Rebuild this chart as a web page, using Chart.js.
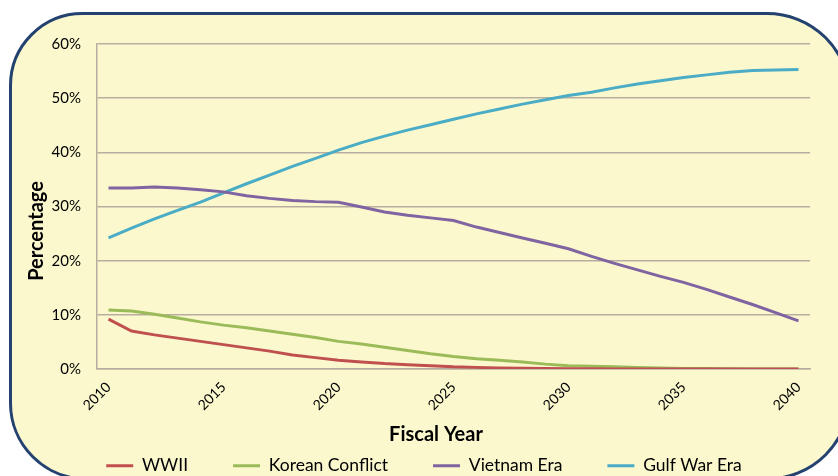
<!DOCTYPE html>
<html>
<head>
    <title>veteran-periods</title>
    <meta charset="utf-8">
    <script src="https://cdn.jsdelivr.net/npm/chart.js"></script>
    <style>
        body { margin: 0; background: #fff; overflow: hidden; }
    </style>
</head>
<body>
    <canvas id="chart" width="838" height="476"></canvas>

    <script>
        const years = [];
        for (let y = 2010; y <= 2040; y++) years.push(String(y));

        const wwii = [9.2, 7.0, 6.3, 5.7, 5.1, 4.5, 3.9, 3.3, 2.6, 2.1, 1.6, 1.3, 1.0, 0.8, 0.6, 0.4,
            0.3, 0.2, 0.15, 0.1, 0.05, 0.03, 0.02, 0.01, 0, 0, 0, 0, 0, 0, 0];
        const korean = [10.9, 10.7, 10.1, 9.4, 8.7, 8.1, 7.6, 7.0, 6.4, 5.8, 5.1, 4.6, 4.0, 3.4, 2.8, 2.3,
            1.9, 1.6, 1.3, 0.9, 0.6, 0.5, 0.4, 0.3, 0.2, 0.1, 0.1, 0.05, 0, 0, 0];
        const vietnam = [33.4, 33.4, 33.6, 33.4, 33.1, 32.7, 32.0, 31.5, 31.1, 30.9, 30.8, 29.9, 29.0, 28.4, 27.9, 27.4,
            26.2, 25.2, 24.2, 23.2, 22.2, 20.8, 19.5, 18.3, 17.1, 16.0, 14.7, 13.3, 11.9, 10.4, 8.9];
        const gulfWar = [24.2, 26.0, 27.7, 29.3, 30.8, 32.5, 34.2, 35.8, 37.4, 38.9, 40.4, 41.8, 43.0, 44.1, 45.1, 46.1,
            47.1, 48.0, 48.9, 49.7, 50.5, 51.1, 51.9, 52.6, 53.2, 53.8, 54.3, 54.8, 55.1, 55.2, 55.3];

        const seriesNames = ['WWII', 'Korean Conflict', 'Vietnam Era', 'Gulf War Era'];
        const seriesColors = ['#c0504d', '#9bbb59', '#8064a2', '#4bacc6'];
        const seriesData = [wwii, korean, vietnam, gulfWar];

        const gridColor = '#b8ad9f';
        const font = 'Lato';

        // rounded yellow panel behind the chart, partly cut off by the page edge
        const panel = {
            id: 'panel',
            beforeDraw(chart) {
                const ctx = chart.ctx;
                const l = 10.5, t = 13.5, r = 850, b = 479;
                const rad = [72, 83, 83, 76]; // tl, tr, br, bl
                ctx.save();
                ctx.fillStyle = '#fff';
                ctx.fillRect(0, 0, chart.width, chart.height);
                ctx.beginPath();
                ctx.moveTo(l + rad[0], t);
                ctx.lineTo(r - rad[1], t);
                ctx.arcTo(r, t, r, t + rad[1], rad[1]);
                ctx.lineTo(r, b - rad[2]);
                ctx.arcTo(r, b, r - rad[2], b, rad[2]);
                ctx.lineTo(l + rad[3], b);
                ctx.arcTo(l, b, l, b - rad[3], rad[3]);
                ctx.lineTo(l, t + rad[0]);
                ctx.arcTo(l, t, l + rad[0], t, rad[0]);
                ctx.closePath();
                ctx.fillStyle = '#fbf8ce';
                ctx.fill();
                ctx.lineWidth = 3;
                ctx.strokeStyle = '#24426f';
                ctx.stroke();
                ctx.restore();
            }
        };

        // axis titles sit off-centre in the original, so draw them here
        const axisTitles = {
            id: 'axisTitles',
            afterDraw(chart) {
                const ctx = chart.ctx;
                ctx.save();
                ctx.fillStyle = '#000';
                ctx.font = 'bold 20px ' + font;
                ctx.textAlign = 'center';
                ctx.textBaseline = 'middle';
                ctx.fillText('Fiscal Year', 436, 435);
                ctx.translate(37, 231);
                ctx.rotate(-Math.PI / 2);
                ctx.fillText('Percentage', 0, 0);
                ctx.restore();
            }
        };

        new Chart(document.getElementById('chart'), {
            type: 'line',
            data: {
                labels: years,
                datasets: seriesData.map((d, i) => ({
                    label: seriesNames[i],
                    data: d,
                    borderColor: seriesColors[i],
                    backgroundColor: seriesColors[i],
                    borderWidth: 3,
                    pointRadius: 0,
                    tension: 0,
                    fill: false
                }))
            },
            options: {
                responsive: false,
                animation: false,
                layout: { padding: { left: 38, right: 28, top: 44, bottom: -8.5 } },
                plugins: {
                    tooltip: { enabled: false },
                    legend: {
                        position: 'bottom',
                        labels: {
                            usePointStyle: true,
                            pointStyle: 'line',
                            pointStyleWidth: 27,
                            padding: 45,
                            color: '#000',
                            font: { family: font, size: 17.5 }
                        }
                    }
                },
                scales: {
                    x: {
                        offset: true,
                        grid: { display: false },
                        border: { display: true, color: gridColor, width: 1.5 },
                        ticks: {
                            autoSkip: false,
                            maxRotation: 45,
                            minRotation: 45,
                            padding: 2,
                            color: '#000',
                            font: { family: font, size: 14 },
                            callback: function (value, index) {
                                return index % 5 === 0 ? years[index] : '';
                            }
                        },
                        afterFit: function (scale) { scale.height = 43; }
                    },
                    y: {
                        min: 0,
                        max: 60,
                        grid: { color: gridColor, lineWidth: 1.5, drawTicks: false },
                        border: { display: true, color: gridColor, width: 1.5 },
                        ticks: {
                            stepSize: 10,
                            padding: 16,
                            color: '#000',
                            font: { family: font, size: 15 },
                            callback: v => v + '%'
                        },
                        afterFit: function (scale) { scale.width = 59; }
                    }
                }
            },
            plugins: [panel, axisTitles]
        });
    </script>
</body>
</html>
